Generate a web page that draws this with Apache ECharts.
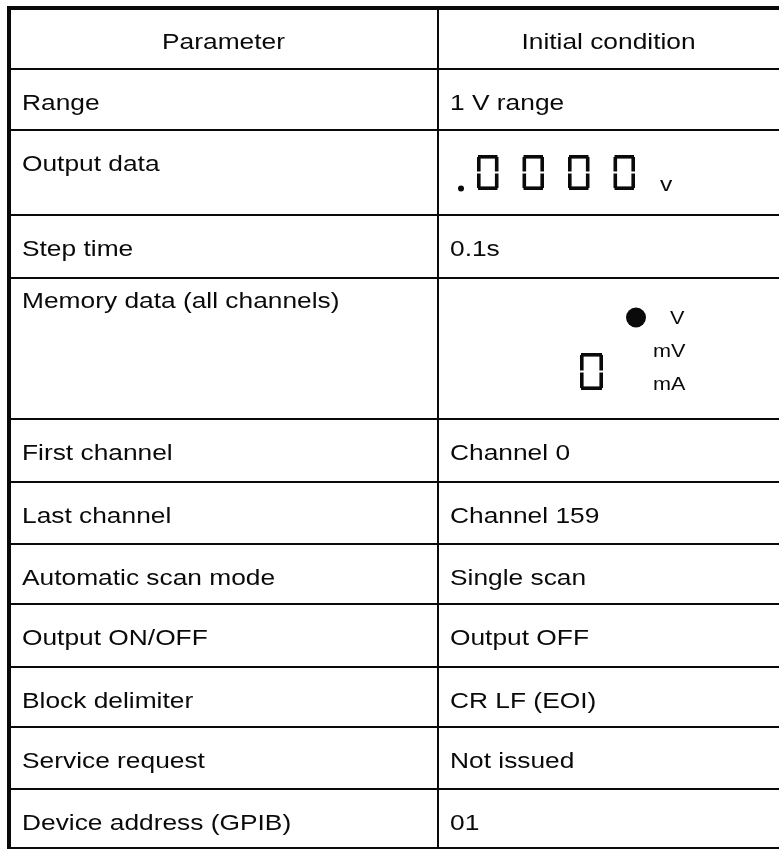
<!DOCTYPE html>
<html><head><meta charset="utf-8">
<script src="https://cdn.jsdelivr.net/npm/echarts@6/dist/echarts.min.js"></script>
<style>html,body{margin:0;padding:0;background:#fff}#c{width:779px;height:851px}</style>
</head><body><div id="c"></div>
<script>
// ---- data ----
const headers = ['Parameter', 'Initial condition'];
const parameters = ['Range', 'Output data', 'Step time', 'Memory data (all channels)', 'First channel',
  'Last channel', 'Automatic scan mode', 'Output ON/OFF', 'Block delimiter', 'Service request', 'Device address (GPIB)'];
const conditions = ['1 V range', null, '0.1s', null, 'Channel 0', 'Channel 159', 'Single scan',
  'Output OFF', 'CR LF (EOI)', 'Not issued', '01'];
const outputDigits = ['0', '0', '0', '0'];
const outputUnit = 'v';
const memoryDigit = '0';
const memoryUnits = ['V', 'mV', 'mA'];
const memorySelected = 'V';

// ---- layout (pixel space of the hidden value axes) ----
const rowEdges = [8, 69, 130, 215, 278, 419, 482, 544, 604, 667, 727, 789, 848];
const L = { left: 9, right: 779, divider: 438, padL: 22, padR: 450, textOff: 35, memTextOff: 24, fontSize: 22.5, sx: 1.17, ink: '#0a0a0a', font: '"Liberation Sans", Arial, Helvetica, sans-serif' };

const rows = [{ p: headers[0], c: headers[1], header: true }].concat(parameters.map((p, i) => ({ p: p, c: conditions[i] })));

function txt(api, x, y, s, size, align) {
  const pt = api.coord([x, y]);
  return { type: 'text', x: pt[0], y: pt[1], scaleX: L.sx, style: { text: s, fontSize: size, fontFamily: L.font, fill: L.ink, align: align || 'left', verticalAlign: 'middle' } };
}
function rect(api, x1, y1, x2, y2) {
  const a = api.coord([x1, y1]), b = api.coord([x2, y2]);
  return { type: 'rect', shape: { x: a[0], y: a[1], width: b[0] - a[0], height: b[1] - a[1] }, style: { fill: L.ink } };
}
// seven-segment digit
function sevenSeg(api, d, x0, y0, w, h) {
  const t = 3.6, g = 1.0, m = y0 + h / 2;
  const segs = [];
  const on = { '0': 'abcdef', '1': 'bc', '8': 'abcdefg' }[d] || 'abcdef';
  if (on.includes('a')) segs.push(rect(api, x0 + g, y0, x0 + w - g, y0 + t));
  if (on.includes('d')) segs.push(rect(api, x0 + g, y0 + h - t, x0 + w - g, y0 + h));
  if (on.includes('f')) segs.push(rect(api, x0, y0 + g + 1, x0 + t, m - g));
  if (on.includes('e')) segs.push(rect(api, x0, m + g, x0 + t, y0 + h - g - 1));
  if (on.includes('b')) segs.push(rect(api, x0 + w - t, y0 + g + 1, x0 + w, m - g));
  if (on.includes('c')) segs.push(rect(api, x0 + w - t, m + g, x0 + w, y0 + h - g - 1));
  if (on.includes('g')) segs.push(rect(api, x0 + g, m - t / 2, x0 + w - g, m + t / 2));
  return segs;
}

function renderRow(params, api) {
  const i = api.value(0);
  const r = rows[i];
  const top = rowEdges[i], bot = rowEdges[i + 1];
  const ch = [];
  ch.push(rect(api, L.left, bot - 1, L.right, bot + 1));
  const isMem = r.p === 'Memory data (all channels)';
  const ty = top + (isMem ? L.memTextOff : L.textOff);
  if (r.header) {
    ch.push(txt(api, (L.left + L.divider) / 2, ty, r.p, L.fontSize, 'center'));
    ch.push(txt(api, (L.divider + L.right) / 2, ty, r.c, L.fontSize, 'center'));
  } else {
    ch.push(txt(api, L.padL, ty, r.p, L.fontSize, 'left'));
    if (r.c != null) ch.push(txt(api, L.padR, ty, r.c, L.fontSize, 'left'));
  }
  if (r.p === 'Output data') {
    const c = api.coord([461, 188.5]);
    ch.push({ type: 'circle', shape: { cx: c[0], cy: c[1], r: 3 }, style: { fill: L.ink } });
    outputDigits.forEach((d, k) => { ch.push.apply(ch, sevenSeg(api, d, 477 + k * 45.5, 155, 21.5, 35)); });
    ch.push(txt(api, 660, 185, outputUnit, 21, 'left'));
  }
  if (isMem) {
    ch.push.apply(ch, sevenSeg(api, memoryDigit, 580, 353, 23, 37));
    const ys = [318.5, 351.5, 384.5];
    memoryUnits.forEach((u, k) => {
      ch.push(txt(api, u === 'V' ? 670 : 653, ys[k], u, 18.5, 'left'));
      if (u === memorySelected) {
        const c = api.coord([636, ys[k] - 1]);
        ch.push({ type: 'circle', shape: { cx: c[0], cy: c[1], r: 10 }, style: { fill: L.ink } });
      }
    });
  }
  return { type: 'group', children: ch };
}

function renderFrame(params, api) {
  return { type: 'group', children: [
    rect(api, 7, 6, L.right, 10),              // top border
    rect(api, 7, 6, 11, 849),                  // left border
    rect(api, L.divider - 1, 8, L.divider + 1, 849) // column divider
  ] };
}

const chart = echarts.init(document.getElementById('c'), null, { renderer: 'canvas' });
chart.setOption({
  animation: false,
  backgroundColor: '#fff',
  grid: { left: 0, right: 0, top: 0, bottom: 0 },
  xAxis: { type: 'value', min: 0, max: 779, show: false },
  yAxis: { type: 'value', min: 0, max: 851, inverse: true, show: false },
  series: [
    { type: 'custom', renderItem: renderRow, data: rows.map((r, i) => [i]), silent: true, clip: false },
    { type: 'custom', renderItem: renderFrame, data: [[0]], silent: true, clip: false }
  ]
});
</script>
</body></html>
